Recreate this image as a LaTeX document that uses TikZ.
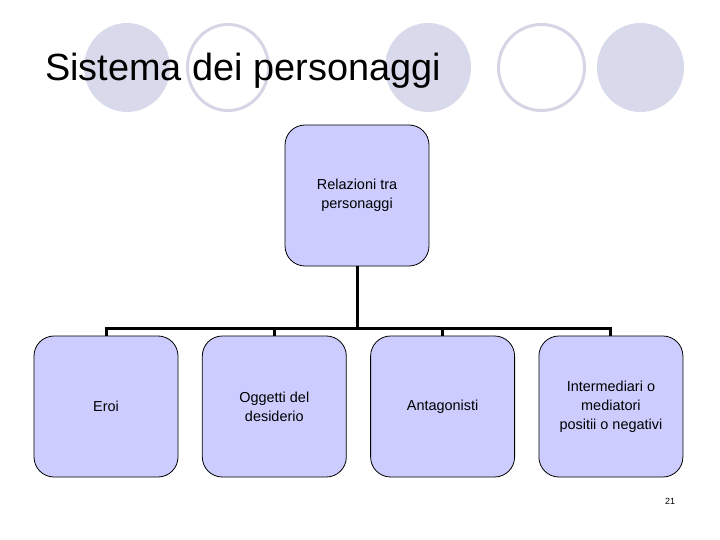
\documentclass[tikz,border=0pt]{standalone}
\usepackage{fontspec}
\setmainfont{Liberation Sans}
\usetikzlibrary{positioning}

\definecolor{boxfill}{RGB}{204,204,255}
\definecolor{dotfill}{RGB}{217,217,236}
\definecolor{dotline}{RGB}{213,213,230}

\tikzset{
  relbox/.style={draw=black, line width=0.8bp, fill=boxfill, rounded corners=20bp,
    minimum width=144bp, minimum height=141bp, align=center,
    font=\fontsize{14.5}{19}\selectfont},
  link/.style={line width=3bp, draw=black},
}

\begin{document}
\begin{tikzpicture}[x=1bp, y=-1bp, node distance=23.5bp]
    \useasboundingbox (0,0) rectangle (720,540);
    % decorative circles behind the title
    \fill[dotfill] (127,67.5) ellipse [x radius=43, y radius=44.5];
    \draw[dotline, line width=3bp] (228,67.5) ellipse [x radius=40.5, y radius=43];
    \fill[dotfill] (428,67.5) ellipse [x radius=43, y radius=44.5];
    \draw[dotline, line width=3bp] (541.5,67.5) ellipse [x radius=43, y radius=43];
    \fill[dotfill] (640.5,67.5) ellipse [x radius=43.5, y radius=44.5];

    \node[anchor=base west, inner sep=0pt, font=\fontsize{38}{40}\selectfont] (title) at (45,81) {Sistema dei personaggi};

    \node[relbox] (rel) at (357,195.5) {Relazioni tra\\personaggi};
    \node[relbox] (eroi) at (106,406.5) {Eroi};
    \node[relbox, right=of eroi] (oggetti) {Oggetti del\\desiderio};
    \node[relbox, right=of oggetti] (antag) {Antagonisti};
    \node[relbox, right=of antag] (inter) {Intermediari o\\mediatori\\positii o negativi};

    \coordinate (bar) at (357,328);
    \draw[link] (rel.south) -- (bar);
    \draw[link] (eroi.north) |- (bar) -| (inter.north);
    \draw[link] (oggetti.north) -- (oggetti.north |- bar);
    \draw[link] (antag.north) -- (antag.north |- bar);

    \node[font=\fontsize{9}{10}\selectfont] (pagenum) at (670,501) {21};
\end{tikzpicture}
\end{document}
